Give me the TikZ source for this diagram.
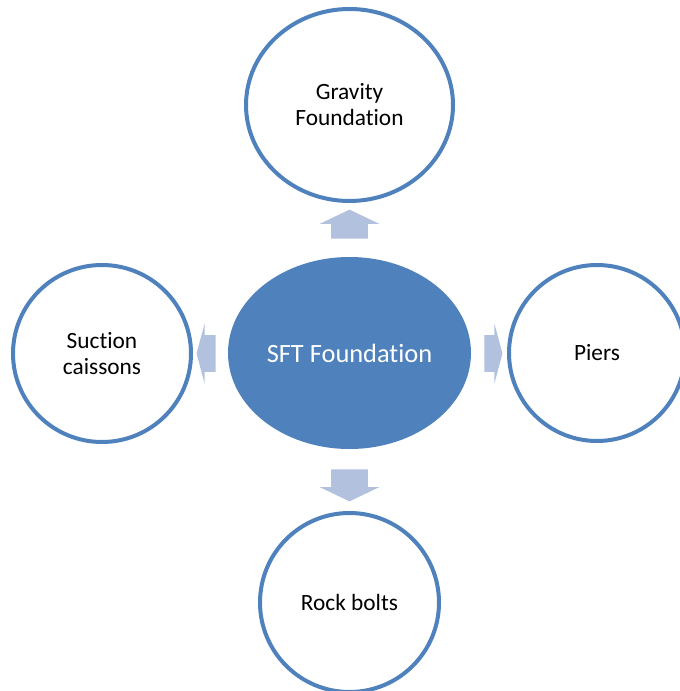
\documentclass[tikz,border=0pt]{standalone}
\usepackage{fontspec}
\setmainfont[Ligatures=NoCommon]{Carlito}
\usepackage{tikz}
\usetikzlibrary{
  shapes.geometric,
  shapes.arrows,
  positioning
}
\definecolor{sftblue}{HTML}{4F81BD}
\definecolor{sftlight}{HTML}{B2C2DE}

\begin{document}
\begin{tikzpicture}[x=0.75pt,y=-0.75pt,
  every text node part/.style={align=center},
  ring/.style={ellipse,draw=sftblue,line width=3pt,fill=white,inner sep=0pt,
    font=\fontsize{17.5}{19.5}\selectfont,text=black},
  hub/.style={ellipse,fill=sftblue,inner sep=0pt,text=white,
    font=\fontsize{19.8}{23}\selectfont},
  vert/.style={single arrow,fill=sftlight,inner xsep=0pt,inner ysep=13.5pt,
    single arrow head extend=8.625pt,single arrow tip angle=129},
  horiz/.style={single arrow,fill=sftlight,inner xsep=0pt,inner ysep=13.5pt,
    single arrow head extend=8.625pt,single arrow tip angle=150}]
  \useasboundingbox (0,0) rectangle (680,691);
  \node[hub,minimum width=182.25pt,minimum height=144pt] (0) at (349.5,353) {SFT Foundation};
  \node[ring,minimum width=155.25pt,minimum height=144pt] (1) at (349.5,105) {Gravity\\Foundation};
  \node[ring,minimum width=133.5pt,minimum height=132.75pt] (2) at (102,353.5) {Suction\\caissons};
  \node[ring,minimum width=132pt,minimum height=132pt] (3) at (597,353) {Piers};
  \node[ring,minimum width=134.25pt,minimum height=134.25pt] (4) at (349.5,602.5) {Rock bolts};
  % block arrows out of the hub
  \node[vert,minimum height=21.75pt,rotate=90] (5) at (349.5,228.5) {};
  \node[vert,minimum height=24pt,rotate=-90] (6) at (349.5,481) {};
  \node[horiz,minimum height=14.25pt,shape border rotate=180] (7) at (208.5,353.5) {};
  \node[horiz,minimum height=13.5pt] (8) at (491,353.5) {};
\end{tikzpicture}
\end{document}
